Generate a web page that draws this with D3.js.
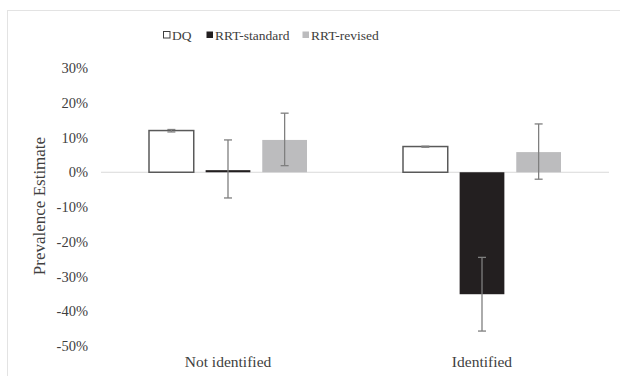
<!DOCTYPE html>
<html>
<head>
<meta charset="utf-8">
<script src="https://cdn.jsdelivr.net/npm/d3@7"></script>
<style>
  body { margin: 0; background: #fff; }
  svg text { font-family: "Liberation Serif", "Times New Roman", serif; fill: #404040; }
</style>
</head>
<body>
<div id="chart"></div>
<script>
// groups on the x axis
var categories = ["Not identified", "Identified"]
var seriesNames = ["DQ", "RRT-standard", "RRT-revised"]

// estimates (%), per series, in category order
var dqValues = [12.0, 7.4]
var stdValues = [0.6, -35.1]
var revValues = [9.3, 5.8]

// error bar ends (%)
var dqLow = [11.6, 7.2], dqHigh = [12.3, 7.5]
var stdLow = [-7.4, -45.7], stdHigh = [9.3, -24.5]
var revLow = [1.9, -2.0], revHigh = [17.0, 13.9]

var yTicks = [30, 20, 10, 0, -10, -20, -30, -40, -50]

var width = 620, height = 376
var margin = {top: 68, right: 11, bottom: 30, left: 101}

var svg = d3.select("#chart").append("svg")
    .attr("width", width)
    .attr("height", height)

// outer chart frame
svg.append("rect")
    .attr("x", 7.5).attr("y", 10.5)
    .attr("width", 640).attr("height", 400)
    .attr("fill", "none")
    .attr("stroke", "#e3e3e3")

var x0 = d3.scaleBand()
    .domain(categories)
    .range([margin.left, width - margin.right])

var y = d3.scaleLinear()
    .domain([-50, 30])
    .range([346, 68])

var series = [
    {name: seriesNames[0], values: dqValues, low: dqLow, high: dqHigh, fill: "#ffffff", stroke: "#595959"},
    {name: seriesNames[1], values: stdValues, low: stdLow, high: stdHigh, fill: "#231f20", stroke: "none"},
    {name: seriesNames[2], values: revValues, low: revLow, high: revHigh, fill: "#bcbcbe", stroke: "none"}
]

var x1 = d3.scaleBand()
    .domain(seriesNames)
    .range([0, 158])
    .paddingInner(0.21)

// y tick labels
svg.append("g").selectAll("text")
    .data(yTicks)
    .enter().append("text")
    .attr("x", 88)
    .attr("y", d => y(d))
    .attr("dy", "0.35em")
    .attr("text-anchor", "end")
    .attr("font-size", "14.5px")
    .text(d => d + "%")

// zero line
svg.append("line")
    .attr("x1", margin.left).attr("x2", width - margin.right)
    .attr("y1", y(0)).attr("y2", y(0))
    .attr("stroke", "#d9d9d9")
    .attr("stroke-width", 1)

var groups = svg.selectAll(".grp")
    .data(categories)
    .enter().append("g")
    .attr("class", "grp")
    .attr("transform", d => "translate(" + (x0(d) + x0.bandwidth() / 2 - 79) + ",0)")

series.forEach(s => {
    groups.append("rect")
        .attr("x", x1(s.name))
        .attr("y", (d, i) => y(Math.max(0, s.values[i])))
        .attr("width", x1.bandwidth())
        .attr("height", (d, i) => Math.max(Math.abs(y(s.values[i]) - y(0)), 1.5))
        .attr("fill", s.fill)
        .attr("stroke", s.stroke)
        .attr("stroke-width", 1.5)

    var cx = x1(s.name) + x1.bandwidth() / 2
    groups.append("line")
        .attr("x1", cx).attr("x2", cx)
        .attr("y1", (d, i) => y(s.low[i]))
        .attr("y2", (d, i) => y(s.high[i]))
        .attr("stroke", "#7f7f7f")
        .attr("stroke-width", 1.3)
    ;["low", "high"].forEach(k => {
        groups.append("line")
            .attr("x1", cx - 4).attr("x2", cx + 4)
            .attr("y1", (d, i) => y(s[k][i]))
            .attr("y2", (d, i) => y(s[k][i]))
            .attr("stroke", "#7f7f7f")
            .attr("stroke-width", 1.3)
    })
})

// category labels
svg.append("g").selectAll("text")
    .data(categories)
    .enter().append("text")
    .attr("x", d => x0(d) + x0.bandwidth() / 2)
    .attr("y", 367)
    .attr("text-anchor", "middle")
    .attr("font-size", "15.5px")
    .text(d => d)

// y axis title
svg.append("text")
    .attr("transform", "translate(45,206) rotate(-90)")
    .attr("text-anchor", "middle")
    .attr("font-size", "17px")
    .text("Prevalence Estimate")

// legend
var legendX = [163, 206, 302]
var legend = svg.append("g")
series.forEach((s, i) => {
    legend.append("rect")
        .attr("x", legendX[i] + 0.5).attr("y", 31.5)
        .attr("width", 6.5).attr("height", 6.5)
        .attr("fill", s.fill)
        .attr("stroke", s.stroke == "none" ? "none" : "#404040")
        .attr("stroke-width", 1)
    legend.append("text")
        .attr("x", legendX[i] + 9)
        .attr("y", 39.5)
        .attr("font-size", "13.5px")
        .text(s.name)
})
</script>
</body>
</html>
